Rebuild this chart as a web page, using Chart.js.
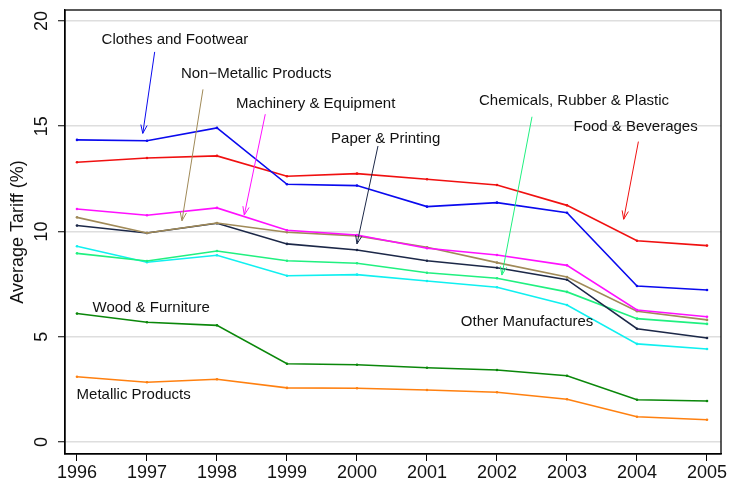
<!DOCTYPE html>
<html>
<head>
<meta charset="utf-8">
<script src="https://cdn.jsdelivr.net/npm/chart.js@4/dist/chart.umd.min.js"></script>
<style>
html,body{margin:0;padding:0;background:#fff;}
canvas{display:block;}
</style>
</head>
<body>
<canvas id="c" width="730" height="485"></canvas>
<script>
const years = [1996,1997,1998,1999,2000,2001,2002,2003,2004,2005];
const yTicks = [0,5,10,15,20];

const clothes     = [14.35,14.31,14.92,12.24,12.18,11.18,11.37,10.89,7.41,7.22];
const food        = [13.29,13.49,13.59,12.62,12.75,12.48,12.21,11.24,9.56,9.33];
const machinery   = [11.07,10.77,11.12,10.06,9.83,9.20,8.88,8.39,6.27,5.95];
const nonMetallic = [10.67,9.93,10.40,9.96,9.79,9.25,8.52,7.84,6.21,5.80];
const paper       = [10.28,9.93,10.39,9.41,9.12,8.61,8.28,7.71,5.38,4.94];
const chemicals   = [8.96,8.60,9.07,8.61,8.49,8.04,7.78,7.13,5.86,5.61];
const otherManuf  = [9.30,8.54,8.87,7.90,7.95,7.65,7.35,6.51,4.66,4.42];
const wood        = [6.10,5.69,5.54,3.72,3.67,3.53,3.42,3.15,2.01,1.95];
const metallic    = [3.10,2.84,2.98,2.57,2.55,2.47,2.36,2.03,1.20,1.06];

const seriesNames  = ['Clothes and Footwear','Food & Beverages','Machinery & Equipment','Non−Metallic Products','Paper & Printing','Chemicals, Rubber & Plastic','Other Manufactures','Wood & Furniture','Metallic Products'];
const seriesValues = [clothes,food,machinery,nonMetallic,paper,chemicals,otherManuf,wood,metallic];
const seriesColors = ['#0a0aee','#f01010','#ff10ff','#a08a58','#1c2848','#20f080','#10f0f0','#0a870a','#ff8010'];

// annotations (data coordinates)
const annoText   = ['Clothes and Footwear','Non−Metallic Products','Machinery & Equipment','Paper & Printing','Chemicals, Rubber & Plastic','Food & Beverages','Wood & Furniture','Metallic Products','Other Manufactures'];
const annoTextX  = [1997.40,1998.56,1999.41,2000.41,2003.10,2003.98,1997.06,1996.81,2002.43];
const annoTextY  = [19.10,17.49,16.06,14.40,16.21,14.97,6.37,2.24,5.71];
const arrowColor = ['#0a0aee','#a08a58','#ff10ff','#1c2848','#20f080','#f01010'];
const arrowFromX = [1997.11,1997.80,1998.69,2000.30,2002.50,2004.02];
const arrowFromY = [18.53,16.75,15.57,14.06,15.45,14.27];
const arrowToX   = [1996.94,1997.50,1998.39,2000.00,2002.07,2003.81];
const arrowToY   = [14.66,10.51,10.78,9.41,7.93,10.58];

const FONT = "'Liberation Sans', Arial, Helvetica, sans-serif";

const deco = {
  id: 'deco',
  afterDraw(chart) {
    const {ctx, chartArea: a, scales: {x, y}} = chart;
    ctx.save();
    // frame
    ctx.strokeStyle = '#000';
    ctx.lineWidth = 1.3;
    ctx.strokeRect(a.left, a.top, a.right - a.left, a.bottom - a.top);
    // rotated y tick labels
    ctx.fillStyle = '#111';
    ctx.font = '18px ' + FONT;
    ctx.textAlign = 'center';
    ctx.textBaseline = 'middle';
    yTicks.forEach(v => {
      ctx.save();
      ctx.translate(42, y.getPixelForValue(v));
      ctx.rotate(-Math.PI / 2);
      ctx.fillText(String(v), 0, 0);
      ctx.restore();
    });
    // y title
    ctx.save();
    ctx.translate(18, (a.top + a.bottom) / 2);
    ctx.rotate(-Math.PI / 2);
    ctx.fillText('Average Tariff (%)', 0, 0);
    ctx.restore();
    // annotation text
    ctx.font = '15px ' + FONT;
    ctx.fillStyle = '#111';
    annoText.forEach((t, i) => {
      ctx.fillText(t, x.getPixelForValue(annoTextX[i]), y.getPixelForValue(annoTextY[i]));
    });
    // arrows
    ctx.lineWidth = 1;
    arrowColor.forEach((c, i) => {
      const x1 = x.getPixelForValue(arrowFromX[i]), y1 = y.getPixelForValue(arrowFromY[i]);
      const x2 = x.getPixelForValue(arrowToX[i]), y2 = y.getPixelForValue(arrowToY[i]);
      const ang = Math.atan2(y2 - y1, x2 - x1);
      const L = 9, w = 0.36;
      ctx.strokeStyle = c;
      ctx.beginPath();
      ctx.moveTo(x1, y1); ctx.lineTo(x2, y2);
      ctx.moveTo(x2 - L * Math.cos(ang - w), y2 - L * Math.sin(ang - w));
      ctx.lineTo(x2, y2);
      ctx.lineTo(x2 - L * Math.cos(ang + w), y2 - L * Math.sin(ang + w));
      ctx.stroke();
    });
    ctx.restore();
  }
};

new Chart(document.getElementById('c'), {
  type: 'line',
  data: {
    datasets: seriesValues.map((vals, i) => ({
      label: seriesNames[i],
      data: years.map((yr, j) => ({x: yr, y: vals[j]})),
      borderColor: seriesColors[i],
      backgroundColor: seriesColors[i],
      borderWidth: 1.6,
      pointRadius: 1.3,
      pointBorderWidth: 0,
      tension: 0,
      fill: false
    }))
  },
  options: {
    responsive: false,
    animation: false,
    devicePixelRatio: 1,
    layout: {padding: {left: 0, right: 9, top: 10, bottom: 0}},
    plugins: {legend: {display: false}, tooltip: {enabled: false}},
    scales: {
      x: {
        type: 'linear',
        min: 1995.829,
        max: 2005.2,
        afterBuildTicks: s => { s.ticks = years.map(v => ({value: v})); },
        afterFit: s => { s.height = 31; },
        grid: {drawOnChartArea: false, drawTicks: true, tickLength: 7, tickColor: '#000', tickWidth: 1},
        border: {display: true, color: '#000', width: 1.3},
        ticks: {
          color: '#111',
          padding: 1,
          maxRotation: 0,
          font: {family: FONT, size: 18},
          callback: v => String(v)
        }
      },
      y: {
        type: 'linear',
        min: -0.57,
        max: 20.52,
        afterBuildTicks: s => { s.ticks = yTicks.map(v => ({value: v})); },
        afterFit: s => { s.width = 65; },
        grid: {color: '#dedede', lineWidth: 1.5, drawTicks: true, tickLength: 7, tickColor: '#000', tickWidth: 1},
        border: {display: true, color: '#000', width: 1.3},
        ticks: {display: false}
      }
    }
  },
  plugins: [deco]
});
</script>
</body>
</html>
